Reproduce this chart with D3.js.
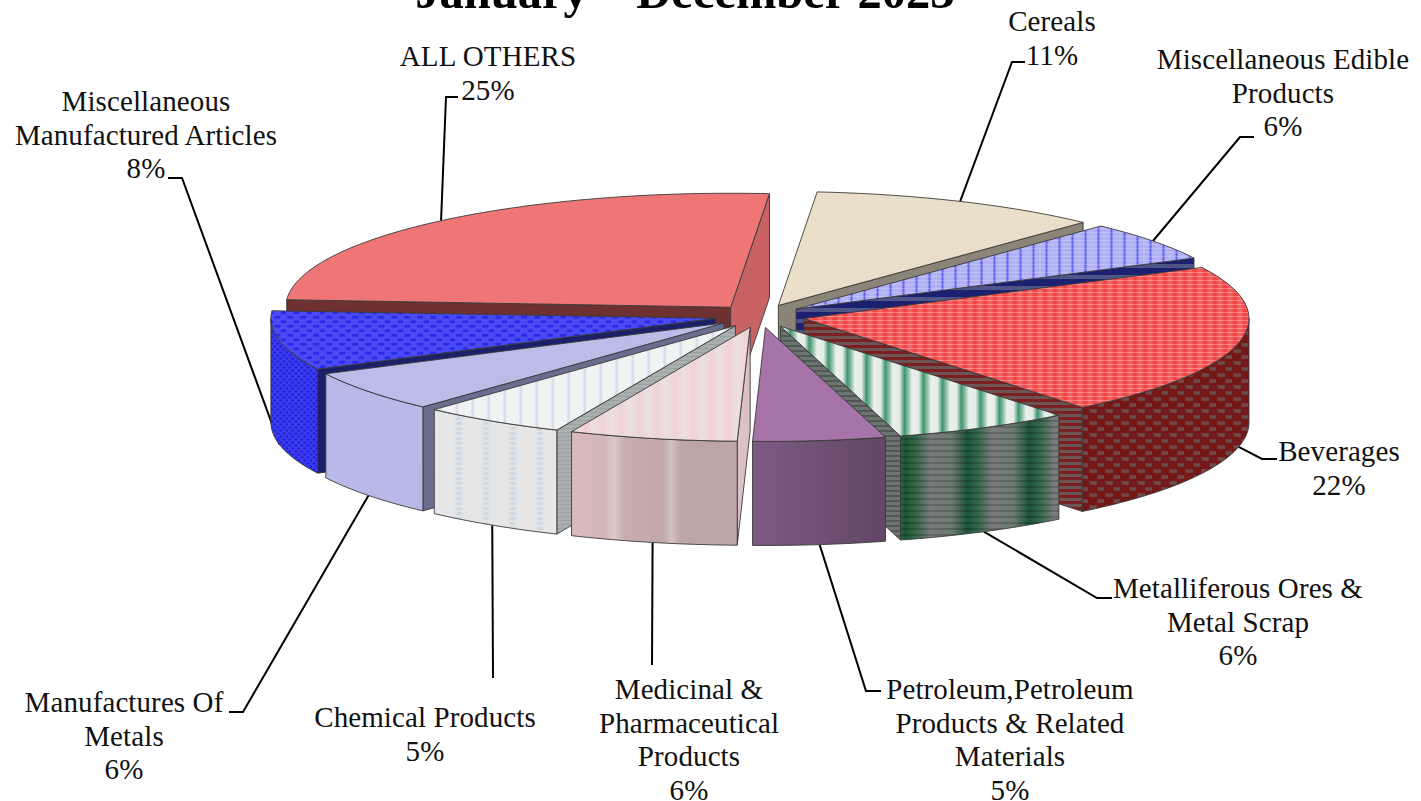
<!DOCTYPE html>
<html>
<head>
  <meta charset="utf-8">
  <title>January – December 2023</title>
  <script src="https://d3js.org/d3.v7.min.js"></script>
  <style>
    html, body { margin: 0; padding: 0; background: #fff; overflow: hidden; }
    svg { display: block; }
    text { font-family: "Liberation Serif", serif; fill: #111; }
  </style>
</head>
<body>
<svg id="chart" width="1421" height="801"></svg>
<script>
// slice shares estimated from the drawn angles, labels show the rounded value
var categories = ['Cereals', 'Miscellaneous Edible Products', 'Beverages', 'Metalliferous Ores & Metal Scrap',
  'Petroleum,Petroleum Products & Related Materials', 'Medicinal & Pharmaceutical Products', 'Chemical Products',
  'Manufactures Of Metals', 'Miscellaneous Manufactured Articles', 'ALL OTHERS'];
var shares = [10.6, 5.6, 21.6, 6.4, 4.8, 6.1, 5.25, 5.8, 8.4, 25.3];
var percentLabels = ['11%', '6%', '22%', '6%', '5%', '6%', '5%', '6%', '8%', '25%'];

// label lines, one list per slice
var labelLines = [
  ['Cereals'],
  ['Miscellaneous Edible', 'Products'],
  ['Beverages'],
  ['Metalliferous Ores &', 'Metal Scrap'],
  ['Petroleum,Petroleum', 'Products & Related', 'Materials'],
  ['Medicinal &', 'Pharmaceutical', 'Products'],
  ['Chemical Products'],
  ['Manufactures Of', 'Metals'],
  ['Miscellaneous', 'Manufactured Articles'],
  ['ALL OTHERS']
];

// where the label blocks sit: centre x, first baseline, leader elbow and leader end
var labelLayout = [
  {x: 1052, y: 31,  elbow: [1012, 62],  end: [1025, 62]},
  {x: 1283, y: 69,  elbow: [1240, 137], end: [1254, 137]},
  {x: 1339, y: 461, elbow: [1262, 459], end: [1277, 459]},
  {x: 1238, y: 598, elbow: [1097, 598], end: [1112, 598]},
  {x: 1010, y: 699, elbow: [866, 691],  end: [881, 691]},
  {x: 689,  y: 699, elbow: [652, 665],  end: [652, 665]},
  {x: 425,  y: 727, elbow: [493, 678],  end: [493, 678]},
  {x: 124,  y: 712, elbow: [243, 712],  end: [229, 712]},
  {x: 146,  y: 111, elbow: [182, 178],  end: [168, 178]},
  {x: 488,  y: 66,  elbow: [446, 97],   end: [458, 97]}
];

var svg = d3.select('#chart');
var defs = svg.append('defs');

var cx = 760, cy = 316, rx = 445, ry = 114, depth = 104, explode = 45;
var lineHeight = 33.5;

// ---- fills ----
function stripePattern(id, w, h, stops, lines) {
  var grad = defs.append('linearGradient').attr('id', id + '-g');
  stops.forEach(function (s) {
    grad.append('stop').attr('offset', s[0]).attr('stop-color', s[1]);
  });
  var p = defs.append('pattern').attr('id', id)
    .attr('patternUnits', 'userSpaceOnUse').attr('width', w).attr('height', h);
  p.append('rect').attr('width', w).attr('height', h).attr('fill', 'url(#' + id + '-g)');
  if (lines) {
    for (var y = 0; y < h; y += lines.step) {
      p.append('rect').attr('y', y).attr('width', w).attr('height', lines.size)
        .attr('fill', lines.color).attr('opacity', lines.opacity);
    }
  }
}
function brickPattern(id, w, h, base, cell) {
  var p = defs.append('pattern').attr('id', id)
    .attr('patternUnits', 'userSpaceOnUse').attr('width', w).attr('height', h);
  p.append('rect').attr('width', w).attr('height', h).attr('fill', base);
  p.append('rect').attr('x', w * 0.1).attr('y', h * 0.1).attr('width', w * 0.45).attr('height', h * 0.3).attr('fill', cell);
  p.append('rect').attr('x', w * 0.6).attr('y', h * 0.6).attr('width', w * 0.45).attr('height', h * 0.3).attr('fill', cell);
}
function wallGradient(id, stops) {
  var grad = defs.append('linearGradient').attr('id', id);
  stops.forEach(function (s) {
    grad.append('stop').attr('offset', s[0]).attr('stop-color', s[1]);
  });
}

stripePattern('cerealTop', 4, 2, [[0, '#ede2cd'], [1, '#ede2cd']], {step: 2, size: 1, color: '#e6dac2', opacity: 0.8});
stripePattern('edibleTop', 13, 4, [[0, '#b4b4f5'], [0.35, '#aeaef5'], [0.5, '#6262ee'], [0.65, '#aeaef5'], [1, '#b4b4f5']], {step: 4, size: 1, color: '#fff', opacity: 0.2});
stripePattern('edibleSide', 4, 11, [[0, '#1b2070'], [1, '#1b2070']], {step: 11, size: 4, color: '#656b90', opacity: 0.7});
stripePattern('bevTop', 10, 4, [[0, '#f26a6a'], [0.5, '#f43c3c'], [1, '#f26a6a']], {step: 4, size: 1, color: '#fff', opacity: 0.3});
brickPattern('bevOuter', 16, 12, '#741818', '#6e4b4b');
stripePattern('bevSide', 4, 6, [[0, '#7a2020'], [1, '#7a2020']], {step: 6, size: 3, color: '#6c5a5a', opacity: 0.9});
stripePattern('metalTop', 19, 4, [[0, '#ecf1ee'], [0.35, '#e4ece8'], [0.6, '#3f9470'], [0.8, '#8fbfa8'], [1, '#ecf1ee']]);
stripePattern('metalOuter', 62, 6, [[0, '#7b7b7b'], [0.35, '#6d7a72'], [0.6, '#1c5636'], [0.8, '#3a6a50'], [1, '#7b7b7b']], {step: 6, size: 2, color: '#000', opacity: 0.18});
stripePattern('metalSide', 4, 5, [[0, '#6d7572'], [1, '#6d7572']], {step: 5, size: 2, color: '#4f5552', opacity: 0.9});
stripePattern('medTop', 18, 4, [[0, '#eddfe0'], [0.5, '#eed2d5'], [1, '#eddfe0']]);
wallGradient('medOuter', [[0, '#d9babd'], [0.2, '#d2b6b8'], [0.26, '#dcc8c8'], [0.32, '#c9adae'], [0.55, '#c2a8a8'], [0.6, '#d4c2c0'], [0.66, '#bfa5a5'], [1, '#bda6a5']]);
wallGradient('petOuter', [[0, '#7d5a84'], [1, '#634766']]);
stripePattern('chemTop', 16, 4, [[0, '#f1f2f1'], [0.4, '#f1f2f1'], [0.55, '#cfdcec'], [0.7, '#f1f2f1'], [1, '#f1f2f1']]);
stripePattern('chemOuter', 27, 5, [[0, '#c9d6df'], [0.18, '#e6e6e6'], [0.8, '#e6e6e6'], [1, '#c9d6df']], {step: 5, size: 2, color: '#e6e6e6', opacity: 0.8});
stripePattern('chemSide', 4, 4, [[0, '#a9afaf'], [1, '#a9afaf']], {step: 4, size: 1, color: '#9ba2a2', opacity: 1});
brickPattern('miscTop', 13, 9, '#4a4af2', '#2a2aea');
brickPattern('miscOuter', 6, 6, '#3a3aee', '#1c1cd0');

// fills per slice, same order as categories
var topFills = ['url(#cerealTop)', 'url(#edibleTop)', 'url(#bevTop)', 'url(#metalTop)', '#a674a8',
  'url(#medTop)', 'url(#chemTop)', '#bcbce9', 'url(#miscTop)', '#ee7676'];
var outerFills = ['#8a8578', '#1b2070', 'url(#bevOuter)', 'url(#metalOuter)', 'url(#petOuter)',
  'url(#medOuter)', 'url(#chemOuter)', '#b8b8e9', 'url(#miscOuter)', '#6f3030'];
var startFills = ['#8a8578', 'url(#edibleSide)', 'url(#bevSide)', 'url(#metalSide)', '#5f4566',
  '#dcc2c6', 'url(#chemSide)', '#6a6e8e', '#1c2068', '#6f3030'];
var endFills = ['#8a8578', 'url(#edibleSide)', 'url(#bevSide)', 'url(#metalSide)', '#5f4566',
  '#dcc2c6', 'url(#chemSide)', '#6a6e8e', '#1c2068', '#c96262'];

// ---- geometry ----
var pie = d3.pie().sort(null)
  .startAngle(5 * Math.PI / 180)
  .endAngle(5 * Math.PI / 180 + 2 * Math.PI);
var slices = pie(shares).map(function (s) {
  var mid = (s.startAngle + s.endAngle) / 2;
  s.mid = mid;
  s.ox = cx + explode * Math.sin(mid);
  s.oy = cy - explode * Math.cos(mid) * ry / rx;
  return s;
});

function rim(s, a, drop) {
  return [s.ox + rx * Math.sin(a), s.oy - ry * Math.cos(a) + (drop || 0)];
}
function rimPoints(s, a0, a1, drop) {
  var n = Math.max(2, Math.ceil((a1 - a0) / 0.02));
  return d3.range(n + 1).map(function (i) { return rim(s, a0 + (a1 - a0) * i / n, drop); });
}
var line = d3.line();

// walls at the back of a slice are hidden, only draw the ones facing us
function drawSlice(g, s) {
  var i = s.index, apex = [s.ox, s.oy], apexLow = [s.ox, s.oy + depth];

  if (Math.sin(s.startAngle) < 0) {
    g.append('path')
      .attr('d', line([apex, rim(s, s.startAngle), rim(s, s.startAngle, depth), apexLow]) + 'Z')
      .attr('fill', startFills[i]);
  }
  if (Math.sin(s.endAngle) > 0) {
    g.append('path')
      .attr('d', line([apex, rim(s, s.endAngle), rim(s, s.endAngle, depth), apexLow]) + 'Z')
      .attr('fill', endFills[i]);
  }
  // outer wall: only the part of the rim between 90 and 270 degrees faces front
  var a0 = Math.max(s.startAngle, Math.PI / 2), a1 = Math.min(s.endAngle, 3 * Math.PI / 2);
  if (a1 > a0) {
    g.append('path')
      .attr('d', line(rimPoints(s, a0, a1).concat(rimPoints(s, a0, a1, depth).reverse())) + 'Z')
      .attr('fill', outerFills[i]);
  }
  g.append('path')
    .attr('d', line([apex].concat(rimPoints(s, s.startAngle, s.endAngle))) + 'Z')
    .attr('fill', topFills[i]);
}

// ---- leaders go underneath the pie ----
var leaders = svg.append('g').attr('fill', 'none').attr('stroke', '#000').attr('stroke-width', 2);
slices.forEach(function (s, i) {
  var back = Math.cos(s.mid) > 0;
  var start = rim(s, s.mid, back ? 0 : depth);
  leaders.append('path').attr('d', line([start, labelLayout[i].elbow, labelLayout[i].end]));
});

// ---- back to front ----
var pieGroup = svg.append('g').attr('stroke', '#3a3a3a').attr('stroke-width', 0.9).attr('stroke-linejoin', 'round');
slices.slice().sort(function (a, b) { return Math.cos(b.mid) - Math.cos(a.mid); }).forEach(function (s) {
  drawSlice(pieGroup.append('g').attr('class', 'slice'), s);
});

// ---- text ----
svg.append('text')
  .attr('x', 685).attr('y', 8)
  .attr('text-anchor', 'middle')
  .attr('font-size', 48.5).attr('font-weight', 'bold')
  .style('fill', '#000')
  .text('January – December 2023');

slices.forEach(function (s, i) {
  var lay = labelLayout[i];
  var t = svg.append('text').attr('text-anchor', 'middle').attr('font-size', 29).attr('letter-spacing', 0.1);
  labelLines[i].concat([percentLabels[i]]).forEach(function (txt, k) {
    t.append('tspan').attr('x', lay.x).attr('y', lay.y + k * lineHeight).text(txt);
  });
});
</script>
</body>
</html>
